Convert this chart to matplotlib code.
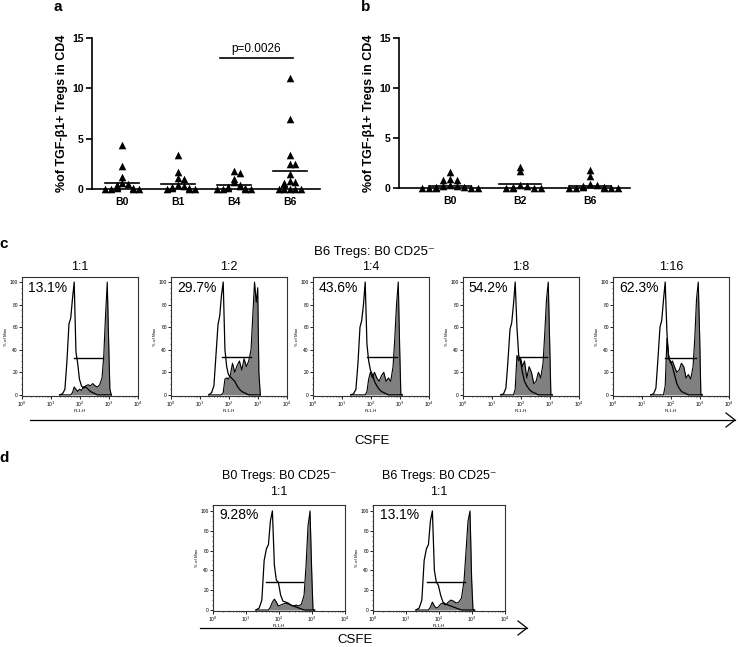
import matplotlib

matplotlib.use("Agg")
import matplotlib.pyplot as plt  # noqa: E402
import numpy as np  # noqa: E402
from matplotlib.ticker import FixedLocator, LogLocator, MultipleLocator, NullFormatter  # noqa: E402

plt.rcParams["font.family"] = ["Liberation Sans", "DejaVu Sans"]

W, H = 738, 647

# ---- panel a / b: scatter of TGF-b1+ Tregs ----
GROUPS_A = ["B0", "B1", "B4", "B6"]
VALUES_A = [
    [4.4, 2.3, 1.2, 0.6, 0.5, 0.4, 0.3, 0.2, 0.1, 0.1, 0.0, 0.0, 0.0, 0.0],
    [3.4, 1.7, 1.1, 1.0, 0.4, 0.3, 0.2, 0.1, 0.1, 0.0, 0.0, 0.0],
    [1.8, 1.6, 1.0, 0.7, 0.4, 0.3, 0.2, 0.1, 0.1, 0.0, 0.0, 0.0, 0.0],
    [11.0, 7.0, 3.4, 2.5, 2.5, 1.5, 0.8, 0.7, 0.6, 0.5, 0.0, 0.0, 0.0, 0.0, 0.0],
]
MEANS_A = [0.6, 0.5, 0.35, 1.8]
P_TEXT = "p=0.0026"
P_LEVEL = 13.0

GROUPS_B = ["B0", "B2", "B6"]
VALUES_B = [
    [1.6, 0.9, 0.8, 0.8, 0.3, 0.2, 0.2, 0.1, 0.1, 0.0, 0.0, 0.0, 0.0, 0.0],
    [2.1, 1.7, 0.3, 0.2, 0.1, 0.0, 0.0, 0.0, 0.0],
    [1.8, 1.2, 0.4, 0.3, 0.2, 0.1, 0.1, 0.0, 0.0, 0.0, 0.0, 0.0],
]
MEANS_B = [0.25, 0.4, 0.25]

SCATTER_YTICKS = [0, 5, 10, 15]
SCATTER_YLABEL = "%of TGF-\u03b21+ Tregs in CD4"

# ---- panel c / d: CFSE histograms (log10 FL1-H grid, % of max) ----
FL1_LOG = [1.30, 1.40, 1.48, 1.55, 1.62, 1.68, 1.74, 1.80, 1.86, 1.92, 1.98, 2.05, 2.12, 2.20,
           2.28, 2.36, 2.44, 2.52, 2.60, 2.68, 2.76, 2.82, 2.88, 2.94, 2.99, 3.03, 3.08]

TITLE_C = "B6 Tregs: B0 CD25\u207b"
RATIOS_C = ["1:1", "1:2", "1:4", "1:8", "1:16"]
PCT_C = ["13.1%", "29.7%", "43.6%", "54.2%", "62.3%"]
OPEN_C = [
    [0, 1, 5, 30, 63, 68, 85, 100, 38, 28, 14, 8, 6, 7, 5, 3, 2, 1, 0, 0, 0, 0, 0, 0, 0, 0, 0],
    [0, 2, 8, 35, 62, 70, 88, 100, 40, 25, 18, 16, 14, 12, 8, 5, 3, 2, 1, 0, 0, 0, 0, 0, 0, 0, 0],
    [0, 1, 5, 28, 60, 66, 80, 100, 45, 30, 22, 18, 12, 8, 5, 3, 2, 1, 0, 0, 0, 0, 0, 0, 0, 0, 0],
    [0, 1, 6, 30, 58, 64, 80, 100, 60, 35, 30, 20, 12, 8, 5, 3, 2, 1, 0, 0, 0, 0, 0, 0, 0, 0, 0],
    [0, 1, 6, 32, 60, 66, 84, 100, 55, 32, 30, 25, 18, 10, 6, 3, 2, 1, 0, 0, 0, 0, 0, 0, 0, 0, 0],
]
FILLED_C = [
    [0, 0, 0, 0, 0, 0, 2, 7, 5, 3, 5, 4, 7, 8, 9, 8, 10, 8, 7, 9, 15, 35, 70, 100, 45, 5, 0],
    [0, 0, 0, 0, 0, 0, 0, 2, 14, 15, 14, 18, 28, 20, 26, 30, 22, 32, 25, 30, 40, 70, 100, 82, 95, 20, 0],
    [0, 0, 0, 0, 0, 0, 0, 0, 3, 14, 20, 15, 20, 15, 12, 17, 20, 12, 15, 12, 25, 50, 80, 100, 40, 0, 0],
    [0, 0, 0, 0, 0, 0, 0, 5, 35, 30, 33, 25, 30, 15, 25, 20, 10, 12, 20, 15, 28, 55, 85, 100, 45, 0, 0],
    [0, 0, 0, 0, 0, 0, 0, 8, 50, 35, 28, 30, 25, 20, 22, 28, 25, 15, 18, 14, 25, 50, 85, 100, 50, 0, 0],
]
GATE_C = [(1.80, 2.80, 33), (1.75, 2.77, 34), (1.85, 2.90, 34), (1.86, 2.90, 34), (1.81, 2.87, 33)]

TITLES_D = ["B0 Tregs: B0 CD25\u207b", "B6 Tregs: B0 CD25\u207b"]
RATIOS_D = ["1:1", "1:1"]
PCT_D = ["9.28%", "13.1%"]
OPEN_D = [
    [0, 2, 10, 50, 62, 66, 90, 100, 45, 30, 28, 15, 9, 8, 7, 5, 4, 3, 2, 1, 0, 0, 0, 0, 0, 0, 0],
    [0, 2, 10, 50, 62, 66, 90, 100, 40, 28, 25, 15, 8, 6, 5, 4, 3, 2, 1, 0, 0, 0, 0, 0, 0, 0, 0],
]
FILLED_D = [
    [0, 0, 0, 0, 0, 0, 3, 8, 11, 8, 4, 5, 6, 7, 6, 5, 4, 5, 4, 6, 15, 45, 85, 100, 40, 0, 0],
    [0, 0, 0, 0, 0, 0, 3, 8, 4, 2, 3, 6, 7, 5, 8, 10, 9, 7, 8, 12, 30, 60, 90, 100, 30, 0, 0],
]
GATE_D = [(1.60, 2.73, 28), (1.64, 2.79, 28)]

HIST_XTICKS = [1, 10, 100, 1000, 10000]
HIST_XLABELS = ["10$^0$", "10$^1$", "10$^2$", "10$^3$", "10$^4$"]
HIST_YTICKS = [0, 20, 40, 60, 80, 100]
AXIS_NAME = "CSFE"


def px_axes(fig, left, top, right, bottom):
    return fig.add_axes([left / W, 1 - bottom / H, (right - left) / W, (bottom - top) / H])


def fig_text(fig, x, y, s, **kw):
    fig.text(x / W, 1 - y / H, s, **kw)


def swarm_offsets(values, step=0.1, tol=0.3):
    # simple beeswarm: points close in y are spread left/right
    offsets = []
    placed = []
    for v in values:
        n = sum(1 for p in placed if abs(p - v) < tol)
        k = (n + 1) // 2
        offsets.append(k * step * (1 if n % 2 else -1) if n else 0.0)
        placed.append(v)
    return offsets


def scatter_panel(ax, groups, values, means, xlim):
    for i, (vals, m) in enumerate(zip(values, means), start=1):
        xs = [i + o for o in swarm_offsets(vals)]
        ax.scatter(xs, vals, marker="^", s=30, color="black", linewidths=0, clip_on=False, zorder=3)
        ax.plot([i - 0.3, i + 0.3], [m, m], color="black", lw=1.2, zorder=4)
    ax.set_xlim(*xlim)
    ax.set_ylim(0, 15)
    ax.set_yticks(SCATTER_YTICKS)
    ax.set_xticks(range(1, len(groups) + 1))
    ax.set_xticklabels(groups)
    ax.tick_params(axis="x", length=0, pad=6)
    ax.tick_params(axis="y", length=4, width=1.2, pad=2)
    for lab in ax.get_xticklabels() + ax.get_yticklabels():
        lab.set_fontweight("bold")
        lab.set_fontsize(7.5)
    ax.spines[["top", "right"]].set_visible(False)
    ax.spines[["left", "bottom"]].set_linewidth(1.2)
    ax.set_ylabel(SCATTER_YLABEL, fontsize=9, fontweight="bold", labelpad=3)


def hist_panel(ax, open_y, filled_y, gate, ymax):
    x = 10 ** np.array(FL1_LOG)
    ax.fill_between(x, 0, filled_y, color="#808080", lw=0, zorder=2)
    ax.plot(x, filled_y, color="black", lw=0.8, zorder=3)
    ax.plot(x, open_y, color="black", lw=0.9, zorder=4)
    ax.plot([10 ** gate[0], 10 ** gate[1]], [gate[2], gate[2]], color="black", lw=1.0, zorder=5)
    ax.set_xscale("log")
    ax.set_xlim(1, 10000)
    ax.set_ylim(-1, ymax)
    ax.xaxis.set_major_locator(FixedLocator(HIST_XTICKS))
    ax.set_xticklabels(HIST_XLABELS)
    ax.xaxis.set_minor_locator(LogLocator(base=10, subs=np.arange(2, 10)))
    ax.xaxis.set_minor_formatter(NullFormatter())
    ax.set_yticks(HIST_YTICKS)
    ax.yaxis.set_minor_locator(MultipleLocator(5))
    ax.tick_params(which="major", length=2, width=0.6, labelsize=3.5, pad=1)
    ax.tick_params(which="minor", length=1, width=0.4)
    ax.set_xlabel("FL1-H", fontsize=3.2, labelpad=0)
    ax.set_ylabel("% of Max", fontsize=3.2, labelpad=1)
    for sp in ax.spines.values():
        sp.set_linewidth(0.8)
        sp.set_color("#333333")


def arrow(fig, x0, x1, y):
    fig.add_artist(plt.Line2D([x0 / W, x1 / W], [1 - y / H, 1 - y / H], color="black", lw=0.9))
    fig.add_artist(plt.Line2D([(x1 - 9) / W, x1 / W, (x1 - 9) / W],
                              [1 - (y - 7) / H, 1 - y / H, 1 - (y + 7) / H], color="black", lw=0.9))


fig = plt.figure(figsize=(W / 100, H / 100), dpi=100)

# a
ax_a = px_axes(fig, 92, 38, 320, 189)
scatter_panel(ax_a, GROUPS_A, VALUES_A, MEANS_A, (0.46, 4.54))
ax_a.plot([2.75, 4.05], [P_LEVEL, P_LEVEL], color="black", lw=1.2, clip_on=False)
ax_a.text(3.4, P_LEVEL + 0.35, P_TEXT, ha="center", va="bottom", fontsize=8.5)
fig_text(fig, 58, 7, "a", fontsize=11, fontweight="bold", ha="center", va="center")

# b
ax_b = px_axes(fig, 399, 38, 630, 188)
scatter_panel(ax_b, GROUPS_B, VALUES_B, MEANS_B, (0.27, 3.57))
fig_text(fig, 366, 7, "b", fontsize=11, fontweight="bold", ha="center", va="center")

# c
fig_text(fig, 4, 244, "c", fontsize=11, fontweight="bold", ha="center", va="center")
fig_text(fig, 374, 252, TITLE_C, fontsize=9.5, ha="center", va="center")
for i, left in enumerate([22, 171, 313, 463, 613]):
    ax = px_axes(fig, left, 277, left + 116, 396)
    hist_panel(ax, OPEN_C[i], FILLED_C[i], GATE_C[i], 104.5)
    ax.text(0.05, 0.97, PCT_C[i], transform=ax.transAxes, ha="left", va="top", fontsize=10)
    fig_text(fig, left + 58, 267, RATIOS_C[i], fontsize=9, ha="center", va="center")
arrow(fig, 30, 735, 420)
fig_text(fig, 372, 441, AXIS_NAME, fontsize=9.5, ha="center", va="center")

# d
fig_text(fig, 4, 458, "d", fontsize=11, fontweight="bold", ha="center", va="center")
for i, left in enumerate([213, 373]):
    ax = px_axes(fig, left, 505, left + 132, 611)
    hist_panel(ax, OPEN_D[i], FILLED_D[i], GATE_D[i], 106)
    ax.text(0.05, 0.97, PCT_D[i], transform=ax.transAxes, ha="left", va="top", fontsize=10)
    fig_text(fig, left + 66, 476, TITLES_D[i], fontsize=9, ha="center", va="center")
    fig_text(fig, left + 66, 492, RATIOS_D[i], fontsize=9, ha="center", va="center")
arrow(fig, 200, 527, 628)
fig_text(fig, 355, 640, AXIS_NAME, fontsize=9.5, ha="center", va="center")

fig.savefig("out.png", dpi=100)
